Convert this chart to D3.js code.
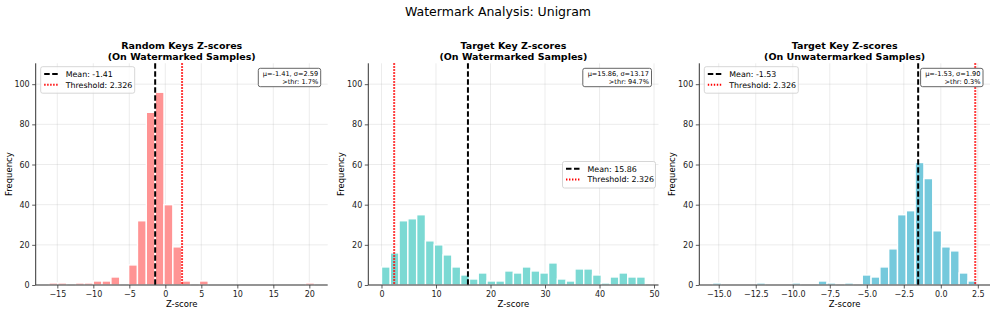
<!DOCTYPE html>
<html>
<head>
<meta charset="utf-8">
<script src="https://cdnjs.cloudflare.com/ajax/libs/d3/7.8.5/d3.min.js"></script>
<style>
  body { margin: 0; background: #fff; }
  svg { display: block; font-family: "DejaVu Sans", sans-serif; }
</style>
</head>
<body>
<svg width="996" height="315"></svg>
<script>
// histogram counts per bin (30 bins each)
var randomKeysCounts = [1, 1, 0, 1, 1, 2, 2, 4, 0, 10, 32, 86, 96, 40, 19, 2, 0, 2, 0, 0, 0, 0, 0, 0, 0, 0, 0, 0, 0, 1];
var targetWmCounts = [9, 16, 32, 33, 35, 22, 20, 15, 9, 5, 3, 6, 2, 2, 7, 6, 9, 7, 6, 11, 3, 2, 8, 8, 5, 1, 4, 6, 4, 4];
var targetUnwmCounts = [1, 0, 0, 0, 0, 1, 0, 0, 0, 1, 0, 0, 2, 1, 0, 1, 0, 5, 4, 9, 18, 35, 37, 61, 53, 27, 19, 17, 6, 2];

// min / max z-score of each sample set (histogram range)
var binRanges = [[-16.16, 20.71], [0.0, 48.4], [-15.42, 2.43]];

var panelTitles = [
    ["Random Keys Z-scores", "(On Watermarked Samples)"],
    ["Target Key Z-scores", "(On Watermarked Samples)"],
    ["Target Key Z-scores", "(On Unwatermarked Samples)"]
];
var means = [-1.41, 15.86, -1.53];
var stds = [2.59, 13.17, 1.90];
var aboveThr = [1.7, 94.7, 0.3];
var threshold = 2.326;

var xTicks = [
    [-15, -10, -5, 0, 5, 10, 15, 20],
    [0, 10, 20, 30, 40, 50],
    [-15, -12.5, -10, -7.5, -5, -2.5, 0, 2.5]
];
var yTicks = [0, 20, 40, 60, 80, 100];
var colors = ["#ff9494", "#7bd9d3", "#75c9dc"];

var svg = d3.select("svg");

svg.append("text")
    .attr("x", 498).attr("y", 16)
    .attr("text-anchor", "middle")
    .style("font-size", "12.5px")
    .text("Watermark Analysis: Unigram");

var allCounts = [randomKeysCounts, targetWmCounts, targetUnwmCounts];
var panels = [
    {left: 35.7, right: 327.7, legend: "ul"},
    {left: 368.3, right: 658.5, legend: "cr"},
    {left: 699.3, right: 990, legend: "ul"}
];
var plotTop = 63.3, plotBottom = 285;

var y = d3.scaleLinear().domain([0, 110.4]).range([plotBottom, plotTop]);

panels.forEach(function(p, k) {
    var counts = allCounts[k];
    var a = binRanges[k][0], b = binRanges[k][1];
    var pad = (b - a) * 0.05;
    var x = d3.scaleLinear().domain([a - pad, b + pad]).range([p.left, p.right]);
    var bw = (b - a) / counts.length;
    var decimals = (k === 2) ? 1 : 0;
    var g = svg.append("g");

    // grid
    g.selectAll(".gx").data(xTicks[k]).enter().append("line")
        .attr("x1", function(d) { return x(d); }).attr("x2", function(d) { return x(d); })
        .attr("y1", plotTop).attr("y2", plotBottom)
        .attr("stroke", "#b0b0b0").attr("stroke-opacity", 0.3).attr("stroke-width", 0.8);
    g.selectAll(".gy").data(yTicks).enter().append("line")
        .attr("x1", p.left).attr("x2", p.right)
        .attr("y1", function(d) { return y(d); }).attr("y2", function(d) { return y(d); })
        .attr("stroke", "#b0b0b0").attr("stroke-opacity", 0.3).attr("stroke-width", 0.8);

    // bars
    counts.forEach(function(c, i) {
        if (c <= 0) return;
        g.append("rect")
            .attr("x", x(a + i * bw)).attr("width", x(a + (i + 1) * bw) - x(a + i * bw))
            .attr("y", y(c)).attr("height", plotBottom - y(c))
            .attr("fill", colors[k])
            .attr("stroke", "#fff").attr("stroke-width", 1.4);
    });

    // mean and threshold lines
    g.append("line")
        .attr("x1", x(means[k])).attr("x2", x(means[k]))
        .attr("y1", plotTop).attr("y2", plotBottom)
        .attr("stroke", "#000").attr("stroke-width", 2)
        .attr("stroke-dasharray", "5.5,2.5");
    g.append("line")
        .attr("x1", x(threshold)).attr("x2", x(threshold))
        .attr("y1", plotTop).attr("y2", plotBottom)
        .attr("stroke", "#ff0000").attr("stroke-width", 2)
        .attr("stroke-dasharray", "1.4,1.6");

    // axes
    var xAxis = d3.axisBottom(x).tickValues(xTicks[k]).tickSizeOuter(0).tickSize(3.5).tickPadding(2.5)
        .tickFormat(function(d) { return d.toFixed(decimals).replace("-", "\u2212"); });
    var ga = g.append("g").attr("transform", "translate(0," + plotBottom + ")").call(xAxis);
    ga.select(".domain").attr("d", "M" + p.left + ",0H" + p.right);
    var yAxis = d3.axisLeft(y).tickValues(yTicks).tickSizeOuter(0).tickSize(3.5).tickPadding(2.5);
    var gy = g.append("g").attr("transform", "translate(" + p.left + ",0)").call(yAxis);
    gy.select(".domain").attr("d", "M0," + plotTop + "V" + plotBottom);
    [ga, gy].forEach(function(ax) {
        ax.selectAll("text").style("font-size", "8px").attr("fill", "#222")
            .style("font-family", "DejaVu Sans");
        ax.selectAll("line").attr("stroke", "#333").attr("stroke-width", 0.8);
        ax.select(".domain").attr("stroke", "#333").attr("stroke-width", 1);
    });

    // labels
    g.append("text")
        .attr("x", (p.left + p.right) / 2).attr("y", 307)
        .attr("text-anchor", "middle").style("font-size", "8.5px")
        .text("Z-score");
    g.append("text")
        .attr("transform", "translate(" + (p.left - 24) + "," + ((plotTop + plotBottom) / 2) + ") rotate(-90)")
        .attr("text-anchor", "middle").style("font-size", "8.5px")
        .text("Frequency");

    // title
    panelTitles[k].forEach(function(t, j) {
        g.append("text")
            .attr("x", (p.left + p.right) / 2).attr("y", 49.3 + j * 10.6)
            .attr("text-anchor", "middle")
            .style("font-size", "9.5px").style("font-weight", "bold")
            .text(t);
    });

    // legend
    var lx, ly;
    if (p.legend === "ul") { lx = p.left + 5; ly = 66.7; }
    else { lx = p.right - 96; ly = 161.5; }
    var lg = g.append("g").attr("transform", "translate(" + lx + "," + ly + ")");
    lg.append("rect").attr("width", p.legend === "ul" ? 94 : 93).attr("height", 26.5).attr("rx", 2)
        .attr("fill", "#fff").attr("fill-opacity", 0.8)
        .attr("stroke", "#cccccc").attr("stroke-width", 0.8);
    var entries = [
        {label: "Mean: " + means[k].toFixed(2), color: "#000", dash: "5.5,2.5"},
        {label: "Threshold: " + threshold, color: "#ff0000", dash: "1.4,1.6"}
    ];
    entries.forEach(function(e, j) {
        var yy = 7.3 + j * 10.8;
        lg.append("line").attr("x1", 3.5).attr("x2", 17).attr("y1", yy).attr("y2", yy)
            .attr("stroke", e.color).attr("stroke-width", 2).attr("stroke-dasharray", e.dash);
        lg.append("text").attr("x", 25).attr("y", yy + 2.8)
            .style("font-size", "7.9px").text(e.label);
    });

    // stats box
    var bx2 = p.right - 7, bxw = (k === 1) ? 68.7 : 62.4;
    var sb = g.append("g");
    sb.append("rect").attr("x", bx2 - bxw).attr("y", 68.3).attr("width", bxw).attr("height", 18.4)
        .attr("rx", 2).attr("fill", "#fff").attr("stroke", "#555").attr("stroke-width", 0.9);
    sb.append("text").attr("x", bx2 - 2.5).attr("y", 75.8).attr("text-anchor", "end")
        .style("font-size", "6.6px")
        .text("\u03bc=" + means[k].toFixed(2) + ", \u03c3=" + stds[k].toFixed(2));
    sb.append("text").attr("x", bx2 - 2.5).attr("y", 83.8).attr("text-anchor", "end")
        .style("font-size", "6.6px")
        .text(">thr: " + aboveThr[k].toFixed(1) + "%");
});
</script>
</body>
</html>
